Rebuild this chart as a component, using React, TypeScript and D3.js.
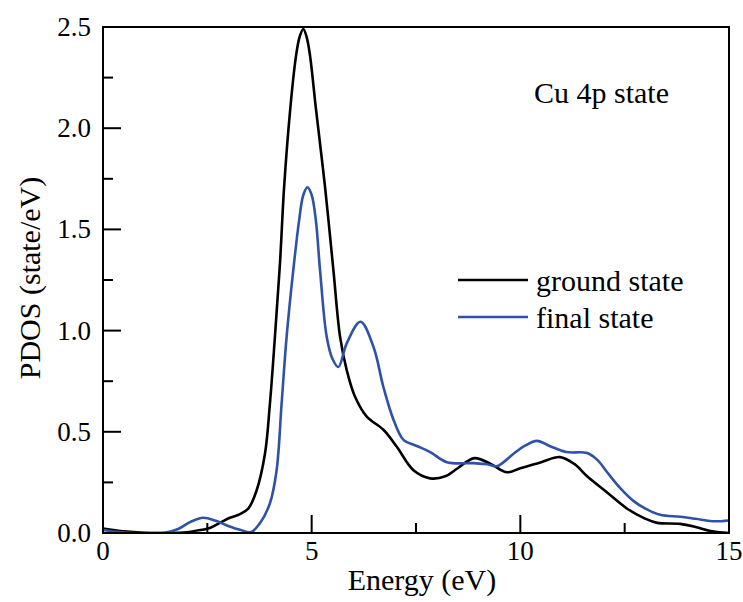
import React from "react";
import * as d3 from "d3";

// Cu 4p PDOS
const groundE = [0, 0.5, 1.0, 1.5, 2.0, 2.2, 2.56, 2.8, 3.04, 3.25, 3.48, 3.68, 3.88, 4.0, 4.12, 4.24, 4.34, 4.48, 4.62, 4.71, 4.8, 4.88, 4.96, 5.1, 5.32, 5.52, 5.68, 5.84, 6.04, 6.32, 6.72, 7.04, 7.44, 7.84, 8.2, 8.5, 8.9, 9.3, 9.68, 10.0, 10.5, 10.95, 11.3, 11.6, 12.08, 12.56, 13.0, 13.28, 13.83, 14.2, 14.6, 15];
const groundPDOS = [0.022, 0.008, 0.001, 0, 0.003, 0.01, 0.025, 0.05, 0.075, 0.09, 0.12, 0.21, 0.39, 0.64, 0.97, 1.33, 1.71, 2.08, 2.35, 2.45, 2.49, 2.45, 2.36, 2.1, 1.71, 1.3, 0.97, 0.805, 0.673, 0.575, 0.51, 0.426, 0.31, 0.27, 0.28, 0.32, 0.37, 0.34, 0.3, 0.32, 0.35, 0.375, 0.34, 0.28, 0.2, 0.12, 0.07, 0.05, 0.045, 0.03, 0.008, 0];

const finalE = [0, 0.3, 0.6, 1.0, 1.5, 1.8, 2.1, 2.4, 2.7, 3.0, 3.3, 3.55, 3.76, 4.0, 4.16, 4.28, 4.4, 4.56, 4.7, 4.8, 4.9, 5.0, 5.1, 5.2, 5.36, 5.5, 5.64, 5.84, 6.17, 6.48, 6.72, 6.96, 7.2, 7.52, 7.84, 8.24, 8.87, 9.2, 9.44, 9.83, 10.1, 10.4, 10.7, 11.1, 11.6, 11.85, 12.08, 12.4, 12.7, 13.0, 13.35, 13.83, 14.2, 14.6, 15];
const finalPDOS = [0.015, 0.006, 0.001, 0, 0.002, 0.02, 0.055, 0.075, 0.06, 0.035, 0.015, 0.005, 0.048, 0.147, 0.31, 0.64, 0.97, 1.3, 1.546, 1.67, 1.708, 1.67, 1.546, 1.3, 0.97, 0.86, 0.82, 0.937, 1.044, 0.92, 0.72, 0.56, 0.46, 0.43, 0.4, 0.35, 0.345, 0.34, 0.33, 0.39, 0.43, 0.455, 0.43, 0.4, 0.395, 0.36, 0.3, 0.22, 0.16, 0.12, 0.09, 0.08, 0.07, 0.058, 0.062];

const xTicks = [0, 5, 10, 15];
const xMinor = [2.5, 7.5, 12.5];
const yTicks = [0, 0.5, 1.0, 1.5, 2.0, 2.5];
const yMinor = [0.25, 0.75, 1.25, 1.75, 2.25];

const series = [
  { name: "ground state", e: groundE, v: groundPDOS, color: "#000000" },
  { name: "final state", e: finalE, v: finalPDOS, color: "#2f52a8" },
];

const W = 743;
const H = 602;
const left = 103;
const right = 729;
const top = 27;
const bottom = 533;
const font = "Liberation Serif, Times New Roman, serif";

export default function App() {
  const x = d3.scaleLinear().domain([0, 15]).range([left, right]);
  const y = d3.scaleLinear().domain([0, 2.5]).range([bottom, top]);

  const line = d3
    .line<[number, number]>()
    .x((d) => x(d[0]))
    .y((d) => y(d[1]))
    .curve(d3.curveCatmullRom.alpha(0.5));

  return (
    <svg width={W} height={H} style={{ position: "absolute", left: 0, top: 0, fontFamily: font }}>
      <rect x={0} y={0} width={W} height={H} fill="white" />
      <defs>
        <clipPath id="plot">
          <rect x={left} y={top} width={right - left} height={bottom - top} />
        </clipPath>
      </defs>

      {/* curves */}
      <g clipPath="url(#plot)">
        {series.map((s) => (
          <path
            key={s.name}
            d={line(s.e.map((e, i) => [e, s.v[i]] as [number, number])) || ""}
            fill="none"
            stroke={s.color}
            strokeWidth={2.6}
            strokeLinejoin="round"
          />
        ))}
      </g>

      {/* frame */}
      <rect x={left} y={top} width={right - left} height={bottom - top} fill="none" stroke="black" strokeWidth={2} />

      {/* x ticks */}
      {xTicks.map((t) => (
        <g key={"x" + t}>
          <line x1={x(t)} x2={x(t)} y1={bottom} y2={bottom - 18} stroke="black" strokeWidth={2} />
          <text x={x(t)} y={560} textAnchor="middle" fontSize={27}>
            {t}
          </text>
        </g>
      ))}
      {xMinor.map((t) => (
        <line key={"xm" + t} x1={x(t)} x2={x(t)} y1={bottom} y2={bottom - 10} stroke="black" strokeWidth={2} />
      ))}

      {/* y ticks */}
      {yTicks.map((t) => (
        <g key={"y" + t}>
          <line x1={left} x2={left + 18} y1={y(t)} y2={y(t)} stroke="black" strokeWidth={2} />
          <text x={91} y={y(t)} dy="0.33em" textAnchor="end" fontSize={27}>
            {d3.format(".1f")(t)}
          </text>
        </g>
      ))}
      {yMinor.map((t) => (
        <line key={"ym" + t} x1={left} x2={left + 10} y1={y(t)} y2={y(t)} stroke="black" strokeWidth={2} />
      ))}

      {/* axis titles */}
      <text x={422} y={590} textAnchor="middle" fontSize={30}>
        Energy (eV)
      </text>
      <text transform="translate(40, 278) rotate(-90)" textAnchor="middle" fontSize={30}>
        PDOS (state/eV)
      </text>

      {/* annotation */}
      <text x={534} y={103} fontSize={30}>
        Cu 4p state
      </text>

      {/* legend */}
      {series.map((s, i) => (
        <g key={"lg" + s.name}>
          <line x1={458} x2={528} y1={280 + i * 37} y2={280 + i * 37} stroke={s.color} strokeWidth={2.6} />
          <text x={536} y={291 + i * 37} fontSize={30}>
            {s.name}
          </text>
        </g>
      ))}
    </svg>
  );
}
